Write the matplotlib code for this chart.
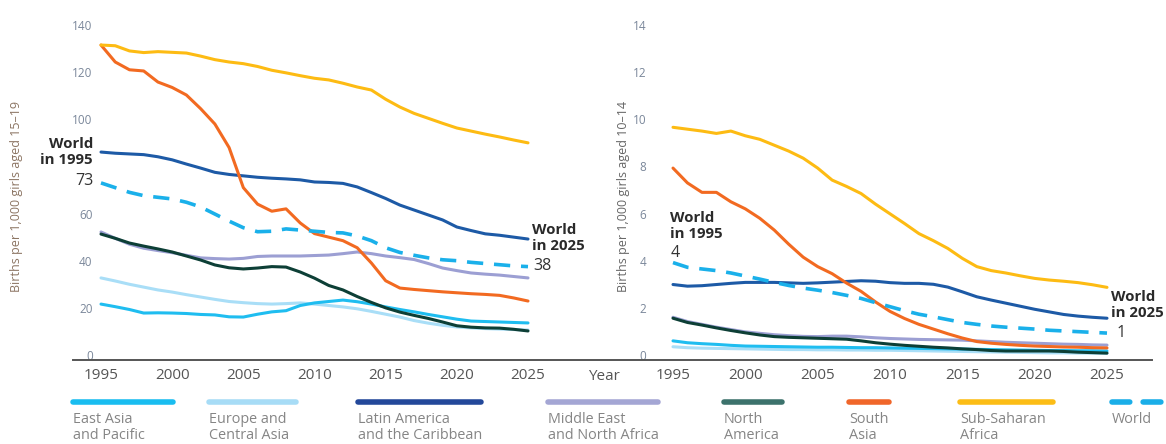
import matplotlib
matplotlib.use("Agg")
import matplotlib.pyplot as plt
from matplotlib.lines import Line2D

plt.rcParams['font.family'] = ['Open Sans', 'DejaVu Sans']

W, H = 1166, 444

years = list(range(1995, 2026))

# births per 1,000 girls aged 15-19
east_asia_15 = [21.6, 20.5, 19.3, 17.8, 17.9, 17.8, 17.6, 17.2, 17.0, 16.2, 16.1, 17.3, 18.3, 18.8, 21.0, 22.1,
                22.7, 23.3, 22.6, 21.6, 20.4, 19.3, 18.3, 17.2, 16.2, 15.2, 14.4, 14.2, 14.0, 13.8, 13.6]
europe_15 = [32.7, 31.4, 30.0, 28.8, 27.6, 26.7, 25.6, 24.6, 23.6, 22.7, 22.2, 21.8, 21.6, 21.8, 22.1, 21.6,
             21.0, 20.4, 19.6, 18.5, 17.3, 16.1, 14.6, 13.5, 12.6, 11.9, 11.5, 11.2, 11.0, 10.8, 10.6]
latam_15 = [86.1, 85.6, 85.3, 85.0, 84.1, 82.8, 81.0, 79.3, 77.5, 76.6, 76.0, 75.4, 75.0, 74.7, 74.3, 73.4,
            73.2, 72.8, 71.3, 68.9, 66.4, 63.6, 61.5, 59.4, 57.3, 54.3, 52.8, 51.4, 50.8, 50.0, 49.2]
mena_15 = [52.2, 49.5, 47.0, 45.3, 44.3, 43.4, 42.3, 41.2, 40.9, 40.7, 41.0, 41.8, 42.0, 42.0, 42.0, 42.2,
           42.4, 43.0, 43.7, 43.0, 42.0, 41.3, 40.5, 38.8, 36.9, 35.8, 34.8, 34.3, 33.9, 33.3, 32.7]
north_am_15 = [51.3, 49.5, 47.5, 46.2, 45.0, 43.7, 42.0, 40.3, 38.2, 37.0, 36.5, 36.9, 37.5, 37.3, 35.2, 32.6,
               29.5, 27.6, 24.8, 22.3, 20.0, 18.2, 16.8, 15.5, 14.0, 12.4, 11.8, 11.5, 11.4, 10.9, 10.2]
south_asia_15 = [131.5, 124.3, 121.0, 120.5, 115.8, 113.5, 110.3, 104.5, 98.0, 88.0, 71.0, 64.0, 61.0, 62.0, 56.0, 51.5,
                 50.0, 48.5, 45.5, 39.0, 31.5, 28.4, 27.8, 27.3, 26.8, 26.4, 26.0, 25.7, 25.3, 24.2, 22.9]
ssa_15 = [131.5, 131.2, 129.0, 128.3, 128.7, 128.4, 128.1, 126.8, 125.3, 124.3, 123.6, 122.4, 120.8, 119.7, 118.5, 117.4,
          116.7, 115.3, 113.7, 112.4, 108.5, 105.2, 102.5, 100.4, 98.3, 96.3, 95.0, 93.7, 92.5, 91.2, 90.0]
world_15 = [73.0, 71.0, 69.0, 67.6, 66.9, 66.2, 64.8, 62.8, 59.8, 56.8, 54.0, 52.3, 52.5, 53.5, 53.0, 52.5,
            52.0, 51.8, 50.5, 48.5, 45.5, 43.5, 42.3, 41.2, 40.4, 40.0, 39.3, 38.8, 38.3, 37.8, 37.5]

# births per 1,000 girls aged 10-14
east_asia_10 = [0.60, 0.52, 0.48, 0.45, 0.41, 0.38, 0.37, 0.36, 0.35, 0.34, 0.33, 0.33, 0.32, 0.31, 0.31, 0.30,
                0.29, 0.28, 0.27, 0.26, 0.25, 0.24, 0.23, 0.22, 0.21, 0.20, 0.19, 0.19, 0.18, 0.18, 0.17]
europe_10 = [0.35, 0.31, 0.29, 0.28, 0.27, 0.26, 0.25, 0.24, 0.23, 0.23, 0.22, 0.22, 0.21, 0.21, 0.20, 0.20,
             0.19, 0.18, 0.17, 0.16, 0.15, 0.14, 0.13, 0.12, 0.11, 0.10, 0.09, 0.09, 0.08, 0.08, 0.07]
latam_10 = [2.99, 2.92, 2.94, 2.99, 3.04, 3.08, 3.08, 3.08, 3.06, 3.04, 3.06, 3.09, 3.12, 3.15, 3.13, 3.07,
            3.04, 3.04, 3.00, 2.88, 2.68, 2.47, 2.33, 2.20, 2.07, 1.94, 1.83, 1.72, 1.65, 1.60, 1.56]
mena_10 = [1.60, 1.42, 1.30, 1.18, 1.08, 0.98, 0.92, 0.86, 0.82, 0.79, 0.78, 0.80, 0.80, 0.77, 0.73, 0.70,
           0.68, 0.66, 0.65, 0.64, 0.63, 0.60, 0.57, 0.54, 0.52, 0.50, 0.48, 0.46, 0.45, 0.43, 0.42]
north_am_10 = [1.56, 1.38, 1.27, 1.15, 1.04, 0.94, 0.85, 0.78, 0.75, 0.73, 0.71, 0.69, 0.67, 0.60, 0.52, 0.46,
               0.41, 0.37, 0.33, 0.30, 0.26, 0.23, 0.19, 0.17, 0.17, 0.17, 0.17, 0.15, 0.12, 0.10, 0.08]
south_asia_10 = [7.93, 7.30, 6.90, 6.90, 6.50, 6.20, 5.80, 5.30, 4.70, 4.15, 3.75, 3.45, 3.05, 2.70, 2.25, 1.85,
                 1.55, 1.30, 1.10, 0.90, 0.72, 0.57, 0.50, 0.45, 0.41, 0.38, 0.36, 0.34, 0.33, 0.31, 0.30]
ssa_10 = [9.66, 9.58, 9.50, 9.40, 9.50, 9.30, 9.15, 8.90, 8.65, 8.35, 7.93, 7.42, 7.15, 6.85, 6.40, 5.99,
          5.58, 5.15, 4.85, 4.52, 4.10, 3.75, 3.58, 3.48, 3.36, 3.25, 3.18, 3.13, 3.07, 2.98, 2.87]
world_10 = [3.92, 3.72, 3.65, 3.58, 3.48, 3.35, 3.22, 3.08, 2.95, 2.84, 2.75, 2.65, 2.53, 2.40, 2.22, 2.05,
            1.88, 1.73, 1.62, 1.50, 1.38, 1.30, 1.23, 1.18, 1.14, 1.10, 1.05, 1.02, 0.99, 0.96, 0.93]

regions = ["East Asia\nand Pacific", "Europe and\nCentral Asia", "Latin America\nand the Caribbean",
           "Middle East\nand North Africa", "North\nAmerica", "South\nAsia", "Sub-Saharan\nAfrica", "World"]
line_colors = ["#1fbdf0", "#a9def7", "#1d5aa6", "#9c9fd3", "#0d3f36", "#f26a21", "#fdbb13", "#1ab0ea"]
legend_colors = ["#19bdf0", "#a7dcf6", "#23489a", "#a4a6d4", "#3c726c", "#f0662a", "#fcbd16", "#1aaee8"]

series_15 = [east_asia_15, europe_15, latam_15, mena_15, north_am_15, south_asia_15, ssa_15, world_15]
series_10 = [east_asia_10, europe_10, latam_10, mena_10, north_am_10, south_asia_10, ssa_10, world_10]
draw_order = [1, 0, 3, 4, 2, 5, 7, 6]


def px(x, y):
    return x / W, 1 - y / H


fig = plt.figure(figsize=(W / 100, H / 100), dpi=100)
ax1 = fig.add_axes([101 / W, 1 - 355 / H, (528 - 101) / W, 330 / H])
ax2 = fig.add_axes([673 / W, 1 - 355 / H, (1107 - 673) / W, 330 / H])

for ax, series, ymax, ypad in [(ax1, series_15, 140, 6), (ax2, series_10, 14, 19)]:
    for i in draw_order:
        if i == 7:
            ax.plot(years, series[i], color=line_colors[i], lw=2.6, ls=(0, (4.5, 3)),
                    solid_capstyle='round', clip_on=False, zorder=3)
        else:
            ax.plot(years, series[i], color=line_colors[i], lw=2.2,
                    solid_capstyle='round', clip_on=False, zorder=2)
    ax.set_xlim(1995, 2025)
    ax.set_ylim(0, ymax)
    ax.set_xticks(range(1995, 2026, 5))
    ax.set_yticks(range(0, ymax + 1, ymax // 7))
    ax.tick_params(axis='x', length=0, pad=9, labelsize=11, labelcolor="#555555")
    ax.tick_params(axis='y', length=0, pad=ypad, labelsize=8.5, labelcolor="#7a879a")
    for s in ax.spines.values():
        s.set_visible(False)
    ax.patch.set_alpha(0)

ax1.set_yticks([0, 20, 40, 60, 100, 120, 140])

# baseline across both panels
fig.add_artist(Line2D([73 / W, 1152 / W], [1 - 360 / H] * 2, color="#555555", lw=1.4))

fig.text(*px(17, 196), "Births per 1,000 girls aged 15\u201319", rotation=90, ha='center', va='center',
         fontsize=9, color="#8c7563")
fig.text(*px(623, 196), "Births per 1,000 girls aged 10\u201314", rotation=90, ha='center', va='center',
         fontsize=9, color="#666666")
fig.text(*px(604, 376), "Year", ha='center', va='center', fontsize=11, color="#555555")

# world annotations
note = dict(fontsize=10.8, color="#2a2a2a", fontweight='bold', linespacing=1.15, va='center')
num = dict(fontsize=11.5, color="#333333", va='center')
fig.text(*px(93, 152), "World\nin 1995", ha='right', **note)
fig.text(*px(93, 181), "73", ha='right', **num)
fig.text(*px(532, 238), "World\nin 2025", ha='left', **note)
fig.text(*px(533, 266), "38", ha='left', **num)
fig.text(*px(670, 226), "World\nin 1995", ha='left', **note)
fig.text(*px(671, 253), "4", ha='left', **num)
fig.text(*px(1111, 305), "World\nin 2025", ha='left', **note)
fig.text(*px(1117, 333), "1", ha='left', **num)

# legend
legend_x = [(73, 173), (209, 296), (358, 481), (548, 658), (724, 782), (849, 889), (960, 1053), (1112, 1162)]
for (x0, x1), lab, c in zip(legend_x, regions, legend_colors):
    (fx0, fy), (fx1, _) = px(x0, 402), px(x1, 402)
    if lab == "World":
        fig.add_artist(Line2D([fx0, fx1], [fy, fy], color=c, lw=4, ls=(0, (3.2, 2.4)),
                              dash_capstyle='round'))
    else:
        fig.add_artist(Line2D([fx0, fx1], [fy, fy], color=c, lw=4, solid_capstyle='round'))
    fig.text(*px(x0, 412), lab, ha='left', va='top', fontsize=10.4, color="#858585", linespacing=1.1)

fig.savefig("out.png", dpi=100)
